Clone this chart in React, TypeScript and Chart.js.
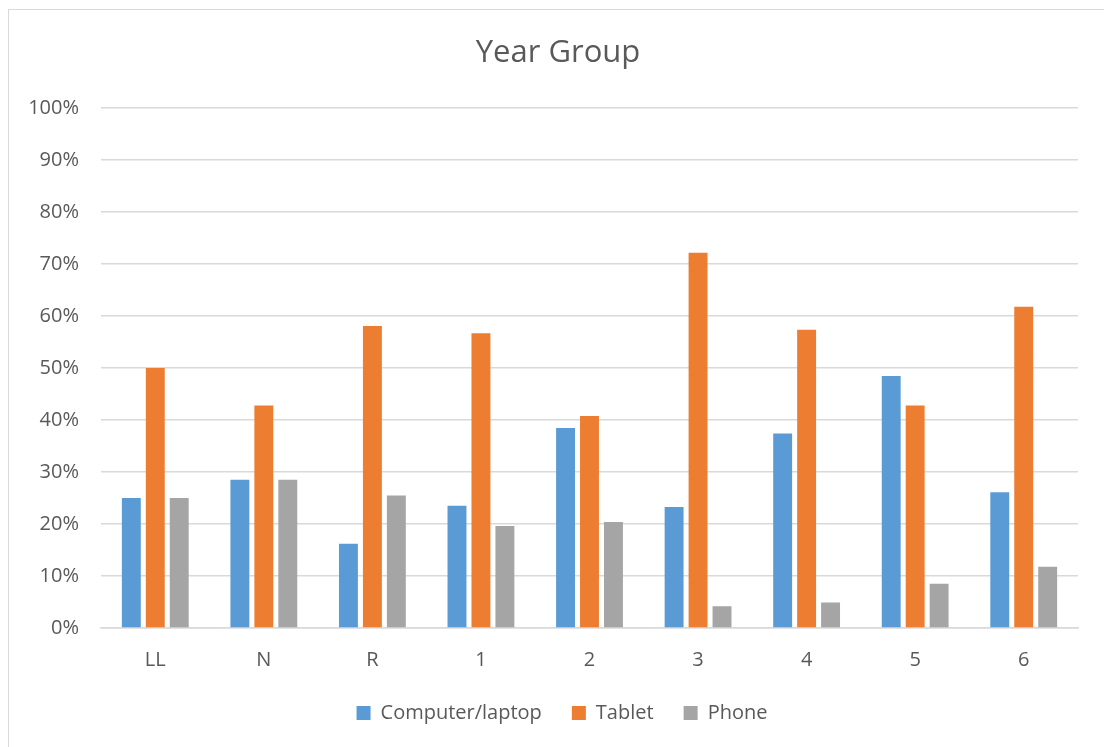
import React, { useEffect, useRef } from "react";
import { Chart, registerables } from "chart.js";

Chart.register(...registerables);

const categories = ["LL", "N", "R", "1", "2", "3", "4", "5", "6"];
const computerLaptop = [25, 28.5, 16.2, 23.5, 38.5, 23.3, 37.4, 48.5, 26.1];
const tablet = [50, 42.8, 58.1, 56.7, 40.8, 72.2, 57.4, 42.8, 61.8];
const phone = [25, 28.5, 25.5, 19.6, 20.4, 4.2, 4.9, 8.5, 11.8];
const seriesNames = ["Computer/laptop", "Tablet", "Phone"];
const seriesColors = ["#5B9BD5", "#ED7D31", "#A5A5A5"];
const yTicks = [0, 10, 20, 30, 40, 50, 60, 70, 80, 90, 100];

const FONT = "'Open Sans', 'Noto Sans', sans-serif";
const TEXT = "#595959";

const centerShift = {
  id: "centerShift",
  afterLayout(chart: any) {
    if (chart.titleBlock) chart.titleBlock.left = 38;
    if (chart.legend) chart.legend.left = 46;
  },
};

export default function App() {
  const ref = useRef<HTMLCanvasElement | null>(null);
  useEffect(() => {
    if (!ref.current) return;
    const chart = new Chart(ref.current, {
      type: "bar",
      data: {
        labels: categories,
        datasets: [computerLaptop, tablet, phone].map((d, i) => ({
          label: seriesNames[i],
          data: d,
          backgroundColor: seriesColors[i],
          borderWidth: 0,
          categoryPercentage: 0.662,
          barPercentage: 0.79,
        })),
      },
      plugins: [centerShift],
      options: {
        animation: false,
        responsive: false,
        maintainAspectRatio: false,
        layout: { padding: { left: 0, right: 26, top: 0, bottom: 14 } },
        plugins: {
          title: {
            display: true,
            text: "Year Group",
            color: TEXT,
            font: { family: FONT, size: 31, weight: "normal", lineHeight: 1.2 },
            padding: { top: 35, bottom: 36 },
          },
          legend: {
            position: "bottom",
            labels: {
              color: TEXT,
              font: { family: FONT, size: 20 },
              boxWidth: 14,
              boxHeight: 14,
              padding: 30,
            },
          },
          tooltip: { enabled: false },
        },
        scales: {
          x: {
            afterFit: (s: any) => {
              s.height = 45;
            },
            grid: { display: false, drawTicks: false },
            border: { color: "#D9D9D9", width: 1.5 },
            ticks: { color: TEXT, font: { family: FONT, size: 20, lineHeight: 1.2 }, padding: 20 },
          },
          y: {
            min: 0,
            max: 100,
            afterFit: (s: any) => {
              s.width = 101;
            },
            afterBuildTicks: (s: any) => {
              s.ticks = yTicks.map((v) => ({ value: v }));
            },
            grid: { color: "#D9D9D9", lineWidth: 1.5, drawTicks: false },
            border: { display: false },
            ticks: {
              color: TEXT,
              padding: 22,
              font: { family: FONT, size: 20 },
              callback: (v: any) => v + "%",
            },
          },
        },
      },
    });
    return () => chart.destroy();
  }, []);
  return (
    <div style={{ position: "fixed", left: 0, top: 0, width: 1104, height: 747, background: "#fff", overflow: "hidden" }}>
      <div
        style={{
          position: "absolute",
          left: 8,
          top: 9,
          width: 1110,
          height: 760,
          border: "1.5px solid #D9D9D9",
          boxSizing: "border-box",
        }}
      />
      <canvas ref={ref} width={1104} height={747} style={{ position: "absolute", left: 0, top: 0, width: 1104, height: 747 }} />
    </div>
  );
}
